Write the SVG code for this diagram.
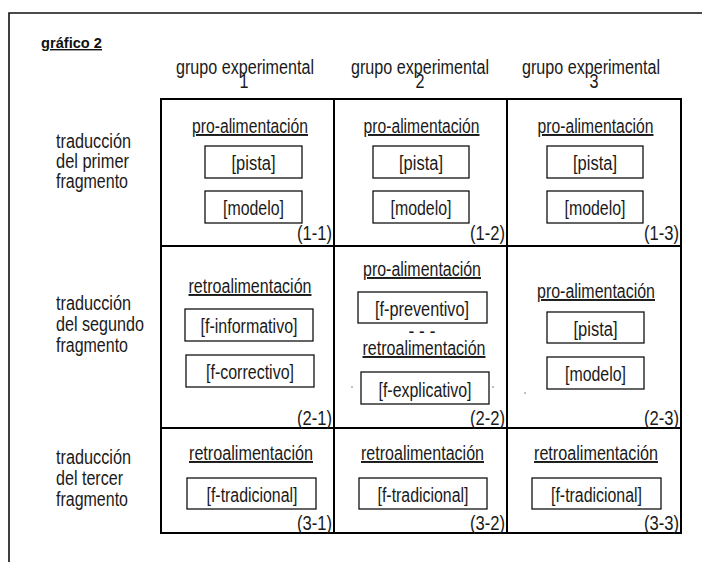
<svg xmlns="http://www.w3.org/2000/svg" width="702" height="562" viewBox="0 0 702 562">
<style>
.t{font-family:'Liberation Sans',Arial,sans-serif;font-size:19.5px;fill:#1a1a1a}
.m{text-anchor:middle}
.e{text-anchor:end}
.u{text-decoration:underline}
.title{font-family:'Liberation Sans',Arial,sans-serif;font-size:14px;font-weight:bold;fill:#111;text-decoration:underline}
.box{fill:none;stroke:#111;stroke-width:1.3}
.grid{fill:none;stroke:#000;stroke-width:2}
.frame{fill:none;stroke:#111;stroke-width:1.6}
.speck{fill:#aaa}
</style>
<rect width="702" height="562" fill="#fff"/>
<path class="frame" d="M702,13 H9 V562"/>
<text class="title" x="41" y="48" textLength="61" lengthAdjust="spacingAndGlyphs">gráfico 2</text>

<g id="headers">
<text class="t m" x="245" y="74" textLength="138" lengthAdjust="spacingAndGlyphs">grupo experimental</text>
<text class="t m" x="244" y="88" textLength="9" lengthAdjust="spacingAndGlyphs">1</text>
<text class="t m" x="420" y="74" textLength="138" lengthAdjust="spacingAndGlyphs">grupo experimental</text>
<text class="t m" x="420" y="88" textLength="9" lengthAdjust="spacingAndGlyphs">2</text>
<text class="t m" x="591" y="74" textLength="138" lengthAdjust="spacingAndGlyphs">grupo experimental</text>
<text class="t m" x="594" y="88" textLength="9" lengthAdjust="spacingAndGlyphs">3</text>
</g>

<g id="row-labels">
<text class="t" x="56" y="148" textLength="75" lengthAdjust="spacingAndGlyphs">traducción</text>
<text class="t" x="56" y="168" textLength="73" lengthAdjust="spacingAndGlyphs">del primer</text>
<text class="t" x="56" y="188" textLength="72" lengthAdjust="spacingAndGlyphs">fragmento</text>
<text class="t" x="56" y="310" textLength="75" lengthAdjust="spacingAndGlyphs">traducción</text>
<text class="t" x="56" y="331" textLength="88" lengthAdjust="spacingAndGlyphs">del segundo</text>
<text class="t" x="56" y="352" textLength="72" lengthAdjust="spacingAndGlyphs">fragmento</text>
<text class="t" x="56" y="464" textLength="75" lengthAdjust="spacingAndGlyphs">traducción</text>
<text class="t" x="56" y="485" textLength="67" lengthAdjust="spacingAndGlyphs">del tercer</text>
<text class="t" x="56" y="506" textLength="72" lengthAdjust="spacingAndGlyphs">fragmento</text>
</g>

<g id="grid">
<rect class="grid" x="161" y="99" width="520" height="434"/>
<line class="grid" x1="334" y1="99" x2="334" y2="533"/>
<line class="grid" x1="507" y1="99" x2="507" y2="533"/>
<line class="grid" x1="161" y1="246" x2="681" y2="246"/>
<line class="grid" x1="161" y1="428" x2="681" y2="428"/>
</g>

<g id="cell-1-1">
<text class="t m u" x="250" y="133" textLength="116" lengthAdjust="spacingAndGlyphs">pro-alimentación</text>
<rect class="box" x="205" y="146" width="97" height="32"/>
<text class="t m" x="253.5" y="170" textLength="44" lengthAdjust="spacingAndGlyphs">[pista]</text>
<rect class="box" x="205" y="191" width="97" height="32"/>
<text class="t m" x="253.5" y="215" textLength="61" lengthAdjust="spacingAndGlyphs">[modelo]</text>
<text class="t e" x="332" y="240" textLength="35" lengthAdjust="spacingAndGlyphs">(1-1)</text>
</g>

<g id="cell-1-2">
<text class="t m u" x="421.5" y="133" textLength="116" lengthAdjust="spacingAndGlyphs">pro-alimentación</text>
<rect class="box" x="373" y="146" width="96" height="32"/>
<text class="t m" x="421" y="170" textLength="44" lengthAdjust="spacingAndGlyphs">[pista]</text>
<rect class="box" x="373" y="191" width="96" height="32"/>
<text class="t m" x="421" y="215" textLength="61" lengthAdjust="spacingAndGlyphs">[modelo]</text>
<text class="t e" x="505" y="240" textLength="35" lengthAdjust="spacingAndGlyphs">(1-2)</text>
</g>

<g id="cell-1-3">
<text class="t m u" x="595.5" y="133" textLength="116" lengthAdjust="spacingAndGlyphs">pro-alimentación</text>
<rect class="box" x="547" y="146" width="96" height="32"/>
<text class="t m" x="595" y="170" textLength="44" lengthAdjust="spacingAndGlyphs">[pista]</text>
<rect class="box" x="547" y="191" width="96" height="32"/>
<text class="t m" x="595" y="215" textLength="61" lengthAdjust="spacingAndGlyphs">[modelo]</text>
<text class="t e" x="679" y="240" textLength="35" lengthAdjust="spacingAndGlyphs">(1-3)</text>
</g>

<g id="cell-2-1">
<text class="t m u" x="250" y="293" textLength="123" lengthAdjust="spacingAndGlyphs">retroalimentación</text>
<rect class="box" x="185" y="309" width="128" height="32"/>
<text class="t m" x="249" y="333" textLength="97" lengthAdjust="spacingAndGlyphs">[f-informativo]</text>
<rect class="box" x="186" y="355" width="128" height="32"/>
<text class="t m" x="250" y="379" textLength="88" lengthAdjust="spacingAndGlyphs">[f-correctivo]</text>
<text class="t e" x="332" y="425" textLength="35" lengthAdjust="spacingAndGlyphs">(2-1)</text>
</g>

<g id="cell-2-2">
<text class="t m u" x="422" y="276" textLength="118" lengthAdjust="spacingAndGlyphs">pro-alimentación</text>
<rect class="box" x="358" y="292" width="129" height="31"/>
<text class="t m" x="422" y="316" textLength="94" lengthAdjust="spacingAndGlyphs">[f-preventivo]</text>
<text class="t m" x="422" y="338" textLength="27" lengthAdjust="spacingAndGlyphs">- - -</text>
<text class="t m u" x="424" y="355" textLength="123" lengthAdjust="spacingAndGlyphs">retroalimentación</text>
<rect class="box" x="361" y="372" width="128" height="32"/>
<text class="t m" x="425" y="397" textLength="93" lengthAdjust="spacingAndGlyphs">[f-explicativo]</text>
<text class="t e" x="505" y="425" textLength="35" lengthAdjust="spacingAndGlyphs">(2-2)</text>
<circle class="speck" cx="352" cy="387" r="1"/>
<circle class="speck" cx="493" cy="387" r="1"/>
</g>

<g id="cell-2-3">
<text class="t m u" x="596" y="298" textLength="118" lengthAdjust="spacingAndGlyphs">pro-alimentación</text>
<rect class="box" x="547" y="312" width="97" height="31"/>
<text class="t m" x="595.5" y="336" textLength="44" lengthAdjust="spacingAndGlyphs">[pista]</text>
<rect class="box" x="547" y="357" width="97" height="32"/>
<text class="t m" x="595.5" y="381" textLength="61" lengthAdjust="spacingAndGlyphs">[modelo]</text>
<text class="t e" x="679" y="425" textLength="35" lengthAdjust="spacingAndGlyphs">(2-3)</text>
<circle class="speck" cx="525" cy="393" r="1"/>
</g>

<g id="cell-3-1">
<text class="t m u" x="251" y="460" textLength="124" lengthAdjust="spacingAndGlyphs">retroalimentación</text>
<rect class="box" x="187" y="478" width="129" height="31"/>
<text class="t m" x="252" y="502" textLength="91" lengthAdjust="spacingAndGlyphs">[f-tradicional]</text>
<text class="t e" x="332" y="530" textLength="35" lengthAdjust="spacingAndGlyphs">(3-1)</text>
</g>

<g id="cell-3-2">
<text class="t m u" x="422.5" y="460" textLength="123" lengthAdjust="spacingAndGlyphs">retroalimentación</text>
<rect class="box" x="359" y="478" width="128" height="31"/>
<text class="t m" x="423" y="502" textLength="91" lengthAdjust="spacingAndGlyphs">[f-tradicional]</text>
<text class="t e" x="505" y="530" textLength="35" lengthAdjust="spacingAndGlyphs">(3-2)</text>
</g>

<g id="cell-3-3">
<text class="t m u" x="596" y="460" textLength="124" lengthAdjust="spacingAndGlyphs">retroalimentación</text>
<rect class="box" x="532" y="478" width="129" height="31"/>
<text class="t m" x="596.5" y="502" textLength="91" lengthAdjust="spacingAndGlyphs">[f-tradicional]</text>
<text class="t e" x="679" y="530" textLength="35" lengthAdjust="spacingAndGlyphs">(3-3)</text>
</g>

<g id="connectors"></g>
</svg>
